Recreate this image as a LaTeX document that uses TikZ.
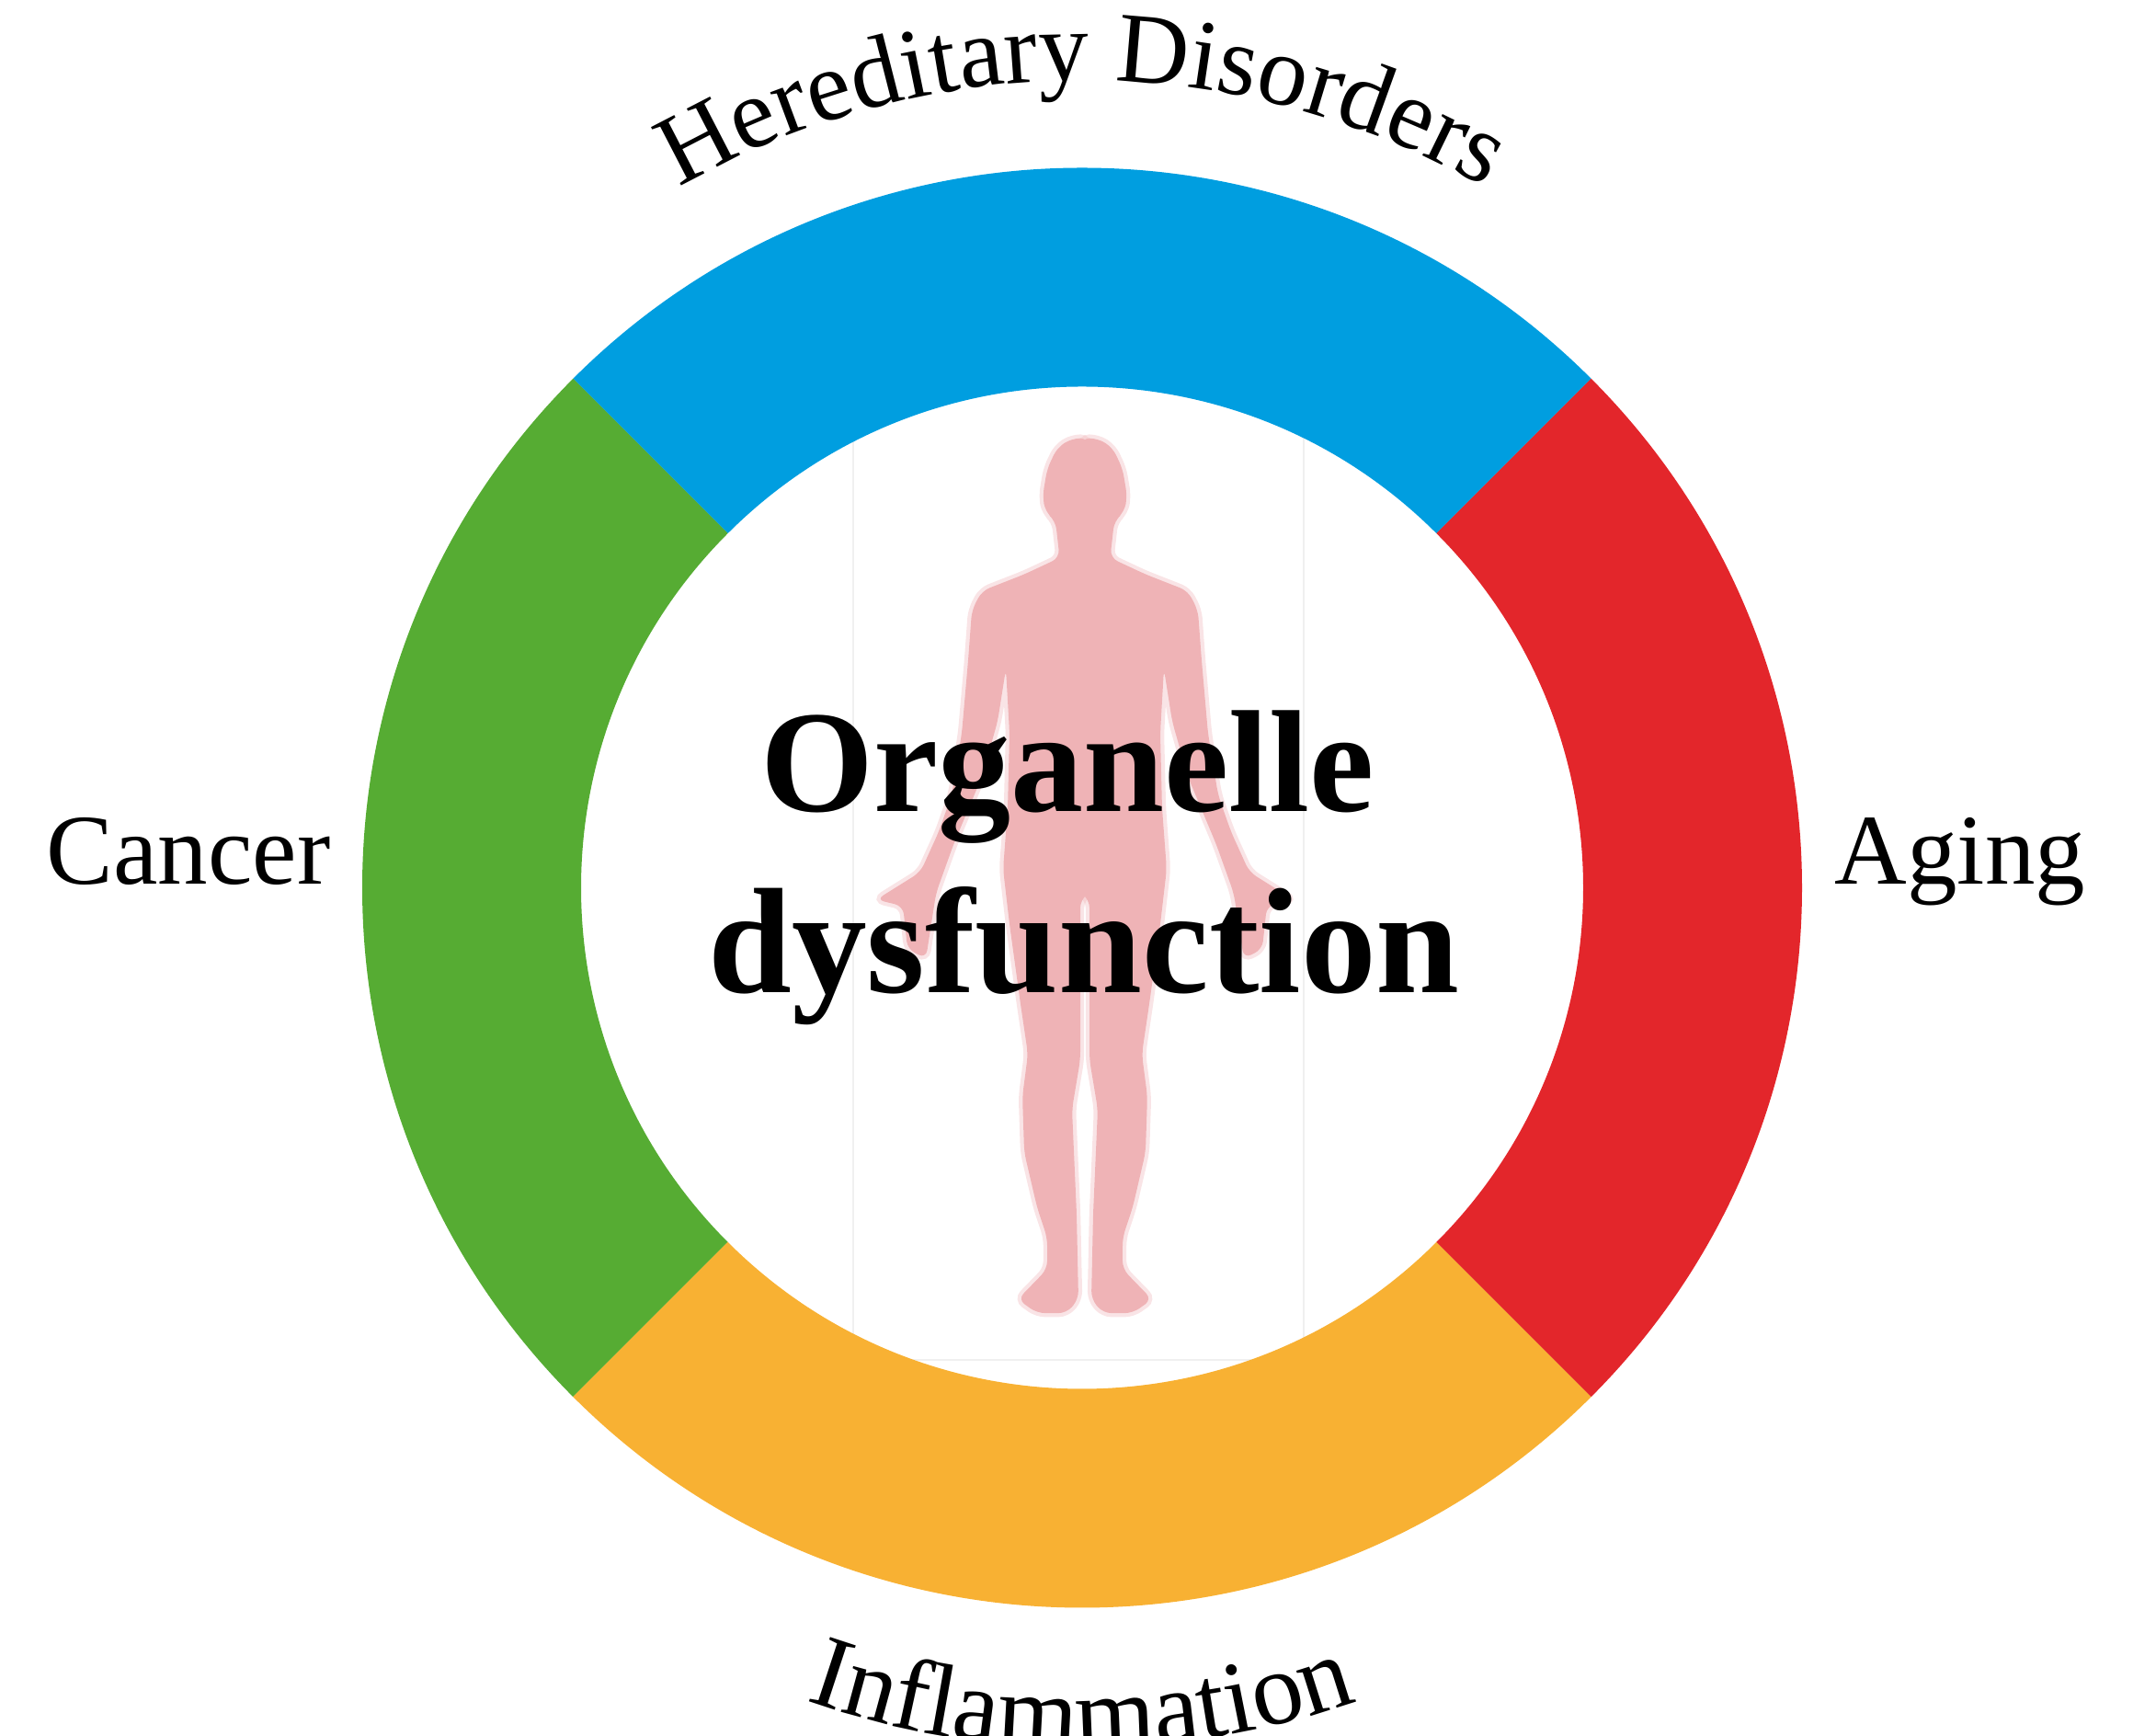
\documentclass[tikz,border=0pt]{standalone}
\usepackage{fontspec}
\setmainfont{Liberation Serif}
\usetikzlibrary{decorations.text,positioning}
\definecolor{ringblue}{HTML}{009EE0}
\definecolor{ringgreen}{HTML}{56AC33}
\definecolor{ringorange}{HTML}{F8B133}
\definecolor{ringred}{HTML}{E3262B}
\definecolor{bodypink}{HTML}{EFB3B6}
\newcommand{\labelfont}{\fontsize{31}{31}\selectfont}
\newcommand{\inflamfont}{\fontsize{32}{32}\selectfont}
\newcommand{\bodyhalf}{(-4,477) -- (14,477) -- (30,487) -- (41,510) -- (46,540) -- (43,557) -- (32,567) -- (27.5,607) -- (66,625) -- (112,643) -- (123,664) -- (127,718) -- (134,798) -- (145,865) -- (159,905) -- (179,949) -- (227,979) -- (198,986) -- (193,1033) -- (173,1043) -- (162,972) -- (143,919) -- (112,845) -- (95,785) -- (86,728) -- (82,798) -- (84,879) -- (89,946) -- (82,1006) -- (70,1093) -- (62,1147) -- (68,1193) -- (66,1254) -- (52,1314) -- (41,1347) -- (41,1381) -- (73,1414) -- (52,1429) -- (20,1429) -- (7,1414) -- (9,1321) -- (14,1207) -- (5,1153) -- (5,979) -- (-4,972) -- cycle}
\tikzset{
  sidelabel/.style={font=\labelfont, inner sep=0pt, anchor=base},
  titleline/.style={font=\fontsize{#1}{50}\selectfont\bfseries, inner sep=0pt, anchor=base},
  bodyedge/.style={draw=bodypink, draw opacity=0.35, line width=2.4pt, rounded corners=2.5pt},
  bodyshape/.style={fill=bodypink, rounded corners=2.5pt},
  pxscope/.style={shift={(11.80,18.88)}, x=0.01cm, y=-0.01cm},
}
\begin{document}
\begin{tikzpicture}
  \useasboundingbox (0,0) rectangle (23.2,18.88);
  \coordinate (ctr) at (11.77,9.225);
  \coordinate (botc) at (11.77,8.93);
  % faint frame of the figure
  \draw[black!6, line width=0.4pt] (9.28,4.09) rectangle (14.18,14.88);
  % ring
  \begin{scope}[shift={(ctr)}]
    \foreach \ang/\col in {45/ringblue,135/ringgreen,225/ringorange,315/ringred} {
      \fill[\col] (\ang:7.83) arc[start angle=\ang, delta angle=90, radius=7.83]
        -- (\ang+90:5.45) arc[start angle=\ang+90, delta angle=-90, radius=5.45] -- cycle;
    }
  \end{scope}
  % body
  \begin{scope}[pxscope]
    \path[bodyedge] \bodyhalf;
  \end{scope}
  \begin{scope}[pxscope, xscale=-1]
    \path[bodyedge] \bodyhalf;
  \end{scope}
  \begin{scope}[pxscope]
    \path[bodyshape] \bodyhalf;
  \end{scope}
  \begin{scope}[pxscope, xscale=-1]
    \path[bodyshape] \bodyhalf;
  \end{scope}
  % labels
  \node[titleline=45] (organelle) at (11.61,10.05) {Organelle};
  \node[titleline=46.5] (dysfunction) at (11.79,8.08) {dysfunction};
  \node[sidelabel] (cancer) at (2.05,9.26) {Cancer};
  \node[sidelabel] (aging) at (21.32,9.26) {Aging};
  \path[decorate, decoration={text along path, text align=center,
    text={|\labelfont|Hereditary Disorders}}]
    (ctr) ++(135:8.78) arc[start angle=135, end angle=45, radius=8.78];
  \path[decorate, decoration={text along path, text align=center,
    text={|\inflamfont|Inflammation}}]
    (botc) ++(240:9.06) arc[start angle=240, end angle=300, radius=9.06];
\end{tikzpicture}
\end{document}
